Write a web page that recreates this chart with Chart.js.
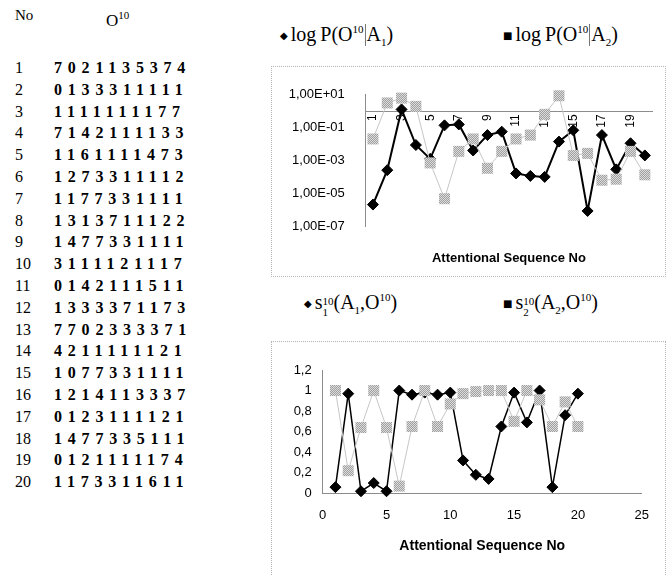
<!DOCTYPE html>
<html>
<head>
<meta charset="utf-8">
<title>Attentional sequences</title>
<script src="https://cdn.jsdelivr.net/npm/chart.js@4.4.1/dist/chart.umd.min.js"></script>
<style>
  body{margin:0;background:#fff;}
  #page{position:relative;width:666px;height:576px;overflow:hidden;font-family:"Liberation Serif","Times New Roman",serif;color:#000;}
  .abs{position:absolute;}
  .box{position:absolute;border:1px dotted #b4b4b4;box-sizing:border-box;}
  .row{position:absolute;left:15px;height:22px;line-height:22px;font-size:16px;white-space:nowrap;}
  .row .n{position:absolute;left:0;}
  .row .d{position:absolute;left:39px;font-weight:bold;letter-spacing:5.8px;}
  .legend{position:absolute;font-size:20px;white-space:nowrap;line-height:24px;}
  .legend .mk{font-family:"DejaVu Sans";font-size:10px;vertical-align:middle;margin-right:3px;}
  .bar{display:inline-block;width:0;height:22px;border-left:1px solid #777;vertical-align:-5px;margin:0 1px;}
  sup,sub{font-size:11px;line-height:0;}
  .stk{display:inline-block;vertical-align:-7px;font-size:11px;line-height:11px;}
  .stk span{display:block;}
</style>
</head>
<body>
<div id="page">
  <div class="abs" style="left:15px;top:7px;font-size:15px;">No</div>
  <div class="abs" style="left:106px;top:11px;font-size:17px;">O<sup>10</sup></div>
  <div id="table"></div>

  <div class="legend" style="left:280px;top:22px;"><span class="mk">&#9670;</span>log&#8201;P(O<sup>10</sup><span class="bar"></span>A<sub>1</sub>)</div>
  <div class="legend" style="left:503px;top:22px;"><span class="mk">&#9632;</span>log&#8201;P(O<sup>10</sup><span class="bar"></span>A<sub>2</sub>)</div>
  <div class="box" style="left:271px;top:66px;width:395px;height:211px;"></div>
  <canvas id="topChart" class="abs" style="left:271px;top:66px;" width="394" height="210"></canvas>

  <div class="legend" style="left:304px;top:290px;"><span class="mk">&#9670;</span>s<span class="stk"><span>10</span><span>1</span></span>(A<sub>1</sub>,O<sup>10</sup>)</div>
  <div class="legend" style="left:503px;top:290px;"><span class="mk">&#9632;</span>s<span class="stk"><span>10</span><span>2</span></span>(A<sub>2</sub>,O<sup>10</sup>)</div>
  <div class="box" style="left:271px;top:341px;width:395px;height:240px;"></div>
  <canvas id="bottomChart" class="abs" style="left:271px;top:342px;" width="394" height="234"></canvas>
</div>

<script>
// sequence numbers and the observed symbol strings O^10
const seqNo = [1,2,3,4,5,6,7,8,9,10,11,12,13,14,15,16,17,18,19,20];
const sequences = [
  "7021135374","0133311111","1111111177","7142111133","1161111473",
  "1273311112","1177331111","1313711122","1477331111","3111121117",
  "0142111511","1333371173","7702333371","4211111121","1077331111",
  "1214113337","0123111121","1477335111","0121111174","1173311611"
];
const seqLabels = seqNo.map(String);

// top chart: P(O^10 | A1), P(O^10 | A2) (log axis)
const logP_A1 = [2.2e-6, 2.7e-4, 1.3, 9e-3, 1.3e-3, 0.14, 0.16, 4.2e-3, 0.036, 0.058,
                 1.7e-4, 1.2e-4, 1.05e-4, 0.0145, 0.07, 9e-7, 0.036, 3e-4, 0.0115, 2.1e-3];
const logP_A2 = [0.021, 3.2, 6.3, 2.0, 7.4e-4, 5e-6, 3.7e-3, 0.021, 3.5e-4, 3.7e-3,
                 0.021, 0.036, 0.65, 8.7, 2.1e-3, 2.8e-3, 6.6e-5, 7.6e-5, 3.7e-3, 1.4e-4];
const logTicks = [1e1, 1e-1, 1e-3, 1e-5, 1e-7];

// bottom chart: s1^10(A1,O^10), s2^10(A2,O^10)
const s_A1 = [0.06, 0.97, 0.02, 0.1, 0.02, 1.0, 0.96, 0.98, 0.96, 0.98,
              0.32, 0.18, 0.14, 0.65, 0.98, 0.69, 1.0, 0.06, 0.76, 0.97];
const s_A2 = [1.0, 0.22, 0.64, 1.0, 0.64, 0.07, 0.65, 1.0, 0.65, 0.87,
              0.97, 0.99, 1.0, 1.0, 0.70, 1.0, 0.91, 0.65, 0.89, 0.65];

// table on the left
const table = document.getElementById("table");
seqNo.forEach((n,i)=>{
  const row = document.createElement("div");
  row.className = "row";
  row.style.top = (57 + i*21.8) + "px";
  row.innerHTML = '<span class="n">'+n+'</span><span class="d">'+sequences[i]+'</span>';
  table.appendChild(row);
});

Chart.defaults.font.family = '"Liberation Sans", Arial, sans-serif';
Chart.defaults.color = "#000";
Chart.defaults.animation = false;

function grayPattern(ctx){
  const c = document.createElement("canvas"); c.width = c.height = 2;
  const g = c.getContext("2d");
  g.fillStyle = "#dcdcdc"; g.fillRect(0,0,2,2);
  g.fillStyle = "#a0a0a0"; g.fillRect(0,0,1,1); g.fillRect(1,1,1,1);
  return ctx.createPattern(c,"repeat");
}

function sci(v){
  const e = Math.round(Math.log10(v));
  return "1,00E" + (e>=0 ? "+" : "-") + String(Math.abs(e)).padStart(2,"0");
}

const dotted = {display:true, color:"#8c8c8c", width:1, dash:[1,2]};

const topCtx = document.getElementById("topChart").getContext("2d");
new Chart(topCtx, {
  type:"line",
  data:{
    labels: seqLabels,
    datasets:[
      {label:"log P(O10|A1)", data:logP_A1, borderColor:"#000", borderWidth:2, tension:0,
       pointStyle:"rectRot", pointRadius:5.5, pointBackgroundColor:"#000", pointBorderColor:"#000", pointBorderWidth:1, order:2},
      {label:"log P(O10|A2)", data:logP_A2, borderColor:"#c6c6c6", borderWidth:1, tension:0,
       pointStyle:"rect", pointRadius:7.8, pointBackgroundColor:grayPattern(topCtx), pointBorderWidth:0, order:1}
    ]
  },
  options:{
    responsive:false, devicePixelRatio:1, clip:false,
    layout:{padding:{left:0, right:13, top:26, bottom:0}},
    plugins:{
      legend:{display:false}, tooltip:{enabled:false},
      title:{display:true, text:"Attentional Sequence No", position:"bottom", fullSize:false,
             font:{size:13, weight:"bold"}, padding:{top:23.5, bottom:10.2}}
    },
    scales:{
      x:{type:"category", position:{y:1}, offset:true, grid:{display:false, drawTicks:false}, border:dotted,
         ticks:{autoSkip:false, minRotation:90, maxRotation:90, padding:3, font:{size:12},
                callback:(v,i)=> i%2===0 ? seqLabels[i] : ""}},
      y:{type:"logarithmic", min:1e-7, max:10, grid:{display:false, drawTicks:false}, border:dotted,
         afterBuildTicks:s=>{ s.ticks = logTicks.map(v=>({value:v})); },
         afterFit:s=>{ s.width = 94.8; },
         ticks:{padding:21, font:{size:13}, callback:v=>sci(v)}}
    }
  }
});

const botCtx = document.getElementById("bottomChart").getContext("2d");
new Chart(botCtx, {
  type:"scatter",
  data:{
    datasets:[
      {label:"s1", data:seqNo.map((n,i)=>({x:n, y:s_A1[i]})), showLine:true, borderColor:"#000", borderWidth:1.5,
       pointStyle:"rectRot", pointRadius:5.5, pointBackgroundColor:"#000", pointBorderColor:"#000", pointBorderWidth:1, order:2},
      {label:"s2", data:seqNo.map((n,i)=>({x:n, y:s_A2[i]})), showLine:true, borderColor:"#c6c6c6", borderWidth:1,
       pointStyle:"rect", pointRadius:7.8, pointBackgroundColor:grayPattern(botCtx), pointBorderWidth:0, order:1}
    ]
  },
  options:{
    responsive:false, devicePixelRatio:1, clip:false,
    layout:{padding:{left:0, right:23.3, top:28, bottom:0}},
    plugins:{
      legend:{display:false}, tooltip:{enabled:false},
      title:{display:true, text:"Attentional Sequence No", position:"bottom", fullSize:false,
             font:{size:14, weight:"bold"}, padding:{top:14, bottom:21.9}}
    },
    scales:{
      x:{type:"linear", min:0, max:25, grid:{display:false, drawTicks:false}, border:dotted,
         afterFit:s=>{ s.height = 30; },
         ticks:{stepSize:5, padding:14, font:{size:13}}},
      y:{min:0, max:1.2, grid:{display:false, drawTicks:false}, border:dotted,
         afterFit:s=>{ s.width = 51.7; },
         ticks:{stepSize:0.2, padding:11, font:{size:13}, callback:v=>String(+v.toFixed(1)).replace(".",",")}}
    }
  }
});
</script>
</body>
</html>
